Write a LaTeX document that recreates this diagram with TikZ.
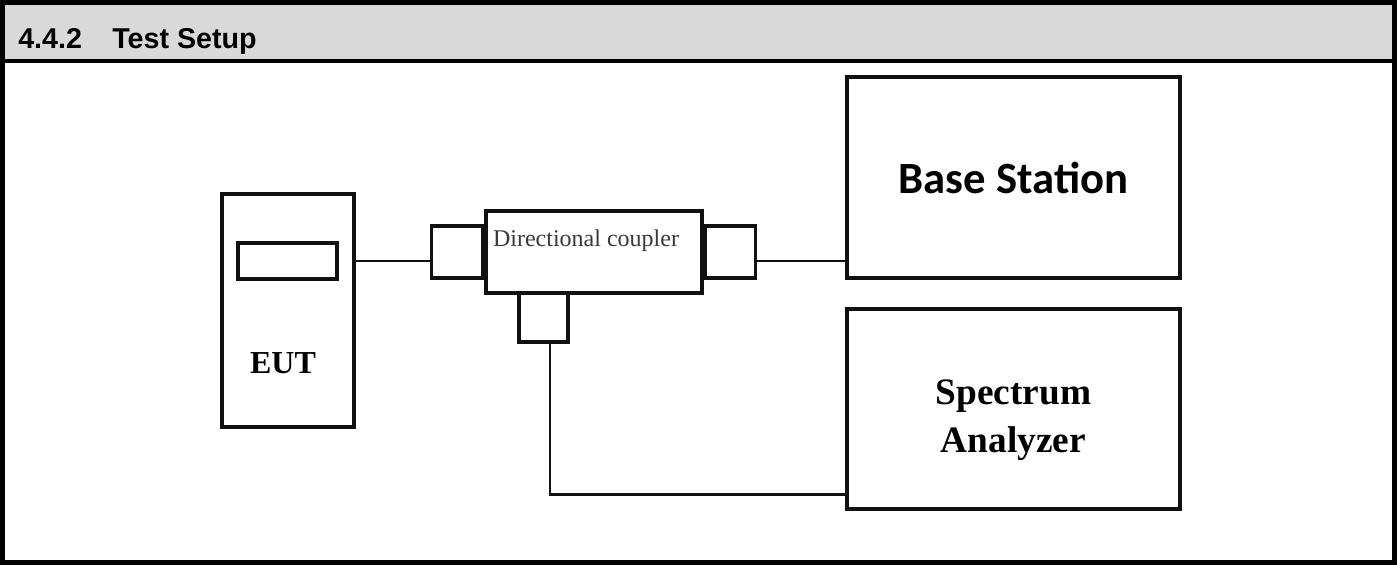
\documentclass[tikz,border=0pt]{standalone}
\usepackage{fontspec}
\setmainfont{Liberation Serif}
\newfontfamily\hdrfont{Liberation Sans}
\newfontfamily\bsfont{Carlito}
\usetikzlibrary{positioning,calc}
\definecolor{chdrbg}{HTML}{D9D9D9}
\definecolor{cline}{HTML}{111111}
\definecolor{ctextcpl}{HTML}{3A3A3A}

\begin{document}
\begin{tikzpicture}[
    x=0.75pt, y=-0.75pt,
    devbox/.style={
        draw=cline, line width=2.4pt, fill=white,
        inner sep=0pt, align=center,
    },
    wire/.style={draw=cline, line width=1.7pt},
    hdrtext/.style={font=\hdrfont\bfseries\fontsize{21.5}{25}\selectfont, anchor=base west, inner sep=0pt},
]
\useasboundingbox (0,0) rectangle (1397,565);

% ============================================================
% HEADER
% ============================================================
\fill[chdrbg] (0,0) rectangle (1397,61);
\draw[line width=3pt] (0,61) -- (1397,61);
\draw[line width=3.5pt] (2.3,2.3) rectangle (1394.7,562.7);
\node[hdrtext] (secnum) at (18,48) {4.4.2};
\node[hdrtext] (sectitle) at (112,48) {Test Setup};

% ============================================================
% EUT
% ============================================================
\node[devbox, minimum width=99pt, minimum height=174.75pt] (eut) at (288,310.5) {};
\node[devbox, minimum width=74.25pt, minimum height=27pt] (screen) at (287.5,261) {};
\node[font=\bfseries\fontsize{24}{28}\selectfont, anchor=base, inner sep=0pt]
    (eutlbl) at (283,373) {EUT};

% ============================================================
% DIRECTIONAL COUPLER
% ============================================================
\node[devbox, minimum width=162pt, minimum height=61.5pt] (coupler) at (594,252) {};
\node[devbox, minimum width=38.25pt, minimum height=39pt, left=0pt of coupler] (cin) {};
\node[devbox, minimum width=37.5pt, minimum height=39pt, right=0pt of coupler] (cout) {};
\node[devbox, minimum width=36.75pt, minimum height=36.75pt] (ctap) at (543.5,317.5) {};
\node[font=\fontsize{18}{22}\selectfont, text=ctextcpl, anchor=base, inner sep=0pt]
    (cpllbl) at (586,246) {Directional coupler};

% ============================================================
% BASE STATION / SPECTRUM ANALYZER
% ============================================================
\node[devbox, minimum width=249.75pt, minimum height=150.75pt,
    font=\bsfont\bfseries\fontsize{33.5}{38}\selectfont] (bs) at (1013.5,177.5) {Base Station};
\node[devbox, minimum width=249.75pt, minimum height=150pt] (sa) at (1013.5,409) {};
\node[font=\bfseries\fontsize{28}{35.5}\selectfont, align=center, inner sep=0pt]
    (salbl) at (1013.5,420) {Spectrum\\Analyzer};

% Cables
\draw[wire] (eut.east |- screen.east) -- (cin.west |- screen.east);
\draw[wire] (cout.east |- screen.east) -- (bs.west |- screen.east);
\draw[wire] ([xshift=5pt]ctap.south) |- ([yshift=12pt]sa.south west);

\end{tikzpicture}
\end{document}
